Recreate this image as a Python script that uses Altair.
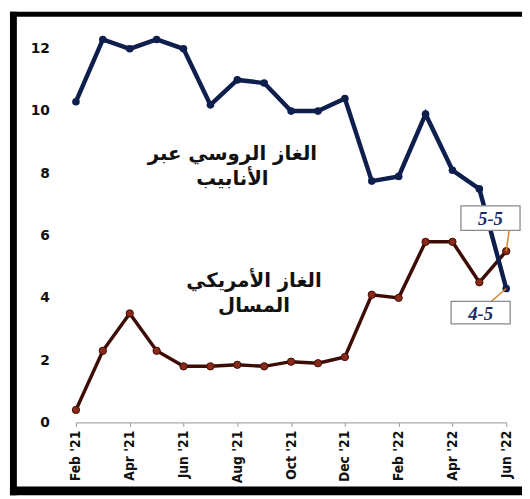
import altair as alt
import pandas as pd

months = ["Feb '21", "Mar '21", "Apr '21", "May '21", "Jun '21", "Jul '21",
          "Aug '21", "Sep '21", "Oct '21", "Nov '21", "Dec '21", "Jan '22",
          "Feb '22", "Mar '22", "Apr '22", "May '22", "Jun '22"]
russian_pipeline = [10.3, 12.3, 12.0, 12.3, 12.0, 10.2, 11.0, 10.9, 10.0, 10.0,
                    10.4, 7.75, 7.9, 9.9, 8.1, 7.5, 4.3]
us_lng = [0.4, 2.3, 3.5, 2.3, 1.8, 1.8, 1.85, 1.8, 1.95, 1.9, 2.1, 4.1, 4.0,
          5.8, 5.8, 4.5, 5.5]
tick_months = months[::2]
y_ticks = [0, 2, 4, 6, 8, 10, 12]

russian_label = ["الغاز الروسي عبر", "الأنابيب"]
us_label = ["الغاز الأمريكي", "المسال"]

BLUE = "#0f1f4d"
BROWN = "#3d0c05"
BROWN_PT = "#8a2a18"

df = pd.DataFrame({
    "month": months * 2,
    "value": russian_pipeline + us_lng,
    "series": ["russian"] * len(months) + ["us"] * len(months),
})

x_enc = alt.X("month:O", sort=months,
              scale=alt.Scale(type="point", padding=0),
              axis=alt.Axis(values=tick_months, title=None, labelAngle=-90,
                            labelAlign="right", labelBaseline="middle",
                            labelFont="Liberation Sans Narrow, DejaVu Sans Condensed, sans-serif",
                            labelFontWeight="bold", labelFontSize=14,
                            labelColor="#111", labelPadding=4,
                            tickSize=4, tickColor="#999", domainColor="#aaa",
                            domainWidth=1.5, grid=False))
y_enc = alt.Y("value:Q", scale=alt.Scale(domain=[0, 13], nice=False),
              axis=alt.Axis(values=y_ticks, title=None, grid=False,
                            domain=False, ticks=False, labelPadding=27,
                            labelFont="DejaVu Sans", labelFontWeight="bold",
                            labelFontSize=14, labelColor="#111"))

base = alt.Chart(df).encode(x=x_enc, y=y_enc)

us_line = base.transform_filter("datum.series == 'us'").mark_line(
    color=BROWN, strokeWidth=3.5)
us_pts = base.transform_filter("datum.series == 'us'").mark_point(
    filled=True, size=55, color=BROWN_PT, stroke=BROWN, strokeWidth=1, opacity=1)
ru_line = base.transform_filter("datum.series == 'russian'").mark_line(
    color=BLUE, strokeWidth=4.5)
ru_pts = base.transform_filter("datum.series == 'russian'").mark_point(
    filled=True, size=60, color=BLUE, opacity=1)

ann_df = pd.DataFrame({
    "month": ["Aug '21"] * 4,
    "value": [8.63, 7.81, 4.54, 3.75],
    "text": russian_label + us_label,
    "dx": [-5, -5, 17, 17],
})
ann = alt.layer(*[
    alt.Chart(ann_df.iloc[[i]]).mark_text(
        font="DejaVu Sans", fontWeight="bold", fontSize=20, color="#111",
        align="center", baseline="middle", dx=int(ann_df["dx"][i])
    ).encode(x=alt.X("month:O", sort=months), y="value:Q", text="text:N")
    for i in range(4)
])

# callouts for last values
call_hi = pd.DataFrame({"month": [months[-1]], "value": [us_lng[-1]], "text": ["5-5"]})
call_lo = pd.DataFrame({"month": [months[-1]], "value": [russian_pipeline[-1]], "text": ["4-5"]})


def callout(data, x0, x1, y0, y1, lx, ly):
    enc = dict(x=alt.X("month:O", sort=months), y="value:Q")
    enc2 = dict(x2="month:O", y2="value:Q")
    lead = alt.Chart(data).mark_rule(
        color="#d9822b", strokeWidth=1.5, x2Offset=lx, y2Offset=ly
    ).encode(**enc, **enc2)
    box = alt.Chart(data).mark_rect(
        fill="white", stroke="#8a8a8a", strokeWidth=1.3,
        xOffset=x0, x2Offset=x1, yOffset=y0, y2Offset=y1
    ).encode(**enc, **enc2)
    txt = alt.Chart(data).mark_text(
        font="Liberation Serif", fontStyle="italic", fontWeight="bold",
        fontSize=19, color="#1b2b66", dx=(x0 + x1) / 2, dy=(y0 + y1) / 2 + 1
    ).encode(**enc, text="text:N")
    return lead + box + txt


hi = callout(call_hi, -46, 14, -46, -21, 3, -21)
lo = callout(call_lo, -56, 4, 13, 36, -15, 13)

one = alt.Data(values=[{"a": 1}])
frame_left = alt.Chart(one).mark_rect(color="black").encode(
    x=alt.value(-67), x2=alt.value(-60), y=alt.value(-6), y2=alt.value(485))
frame_top = alt.Chart(one).mark_rect(color="black").encode(
    x=alt.value(-67), x2=alt.value(460), y=alt.value(-6), y2=alt.value(-1))
frame_bottom = alt.Chart(one).mark_rect(color="black").encode(
    x=alt.value(-67), x2=alt.value(460), y=alt.value(476), y2=alt.value(485))

chart = alt.layer(
    us_line, us_pts, ru_line, ru_pts, ann, hi, lo,
    frame_left, frame_top, frame_bottom
).properties(
    width=437, height=411,
    autosize=alt.AutoSizeParams(type="none"),
    padding={"left": 69, "top": 6, "right": 16, "bottom": 74},
    background="white",
).configure_view(stroke=None)

chart.save("out.html", embed_options={"renderer": "svg", "actions": False})
